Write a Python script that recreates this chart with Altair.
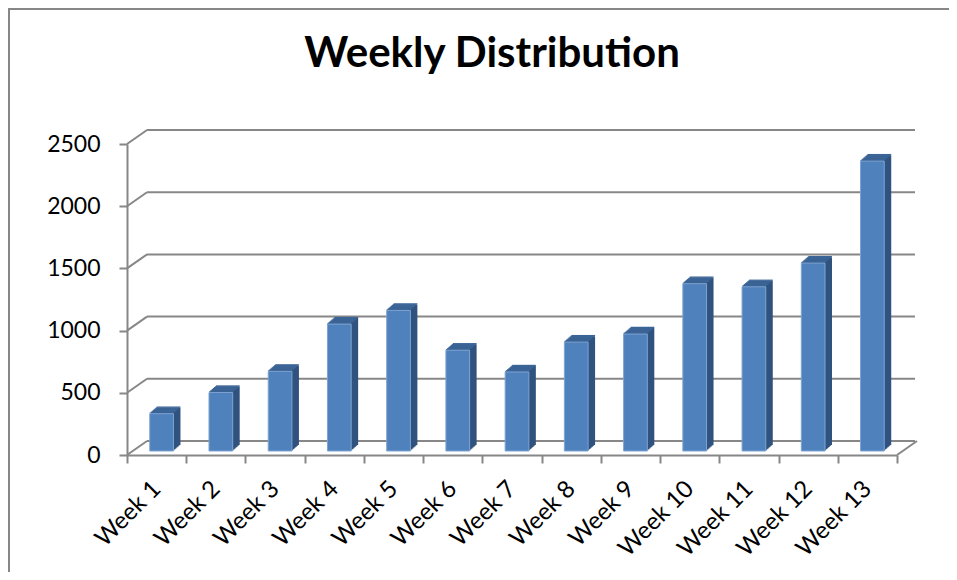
import altair as alt
import pandas as pd

weeks = ["Week 1", "Week 2", "Week 3", "Week 4", "Week 5", "Week 6", "Week 7",
         "Week 8", "Week 9", "Week 10", "Week 11", "Week 12", "Week 13"]
values = [300, 470, 640, 1020, 1130, 810, 635, 875, 940, 1345, 1320, 1510, 2330]
grid_values = [0, 500, 1000, 1500, 2000, 2500]
title_text = "Weekly Distribution"

df = pd.DataFrame({"week": weeks, "value": values})
gdf = pd.DataFrame({"g": grid_values})

W, H = 770, 311
BW = 23.7
GRAY = "#878787"
FRONT = "#4F81BD"
SIDE = "#30527E"
TOP = "#3C6597"
FONT = "Lato"

xscale = alt.Scale(domain=weeks, paddingInner=0, paddingOuter=0)
yscale = alt.Scale(domain=[0, 2500], nice=False)

xaxis = alt.Axis(title=None, labelAngle=-45, labelAlign="right",
                 labelBaseline="middle", labelFont=FONT, labelFontSize=24,
                 labelColor="#000000", labelPadding=22, tickSize=8,
                 tickColor=GRAY, tickWidth=2, domainColor=GRAY,
                 domainWidth=2, tickBand="extent", labelOverlap=False)
yaxis = alt.Axis(title=None, values=grid_values, format="d", labelFont=FONT,
                 labelFontSize=23, labelColor="#000000", labelPadding=19,
                 tickSize=8, tickColor=GRAY, tickWidth=2, domainColor=GRAY,
                 domainWidth=2, grid=False)

x_enc = alt.X("week:N", sort=weeks, scale=xscale, axis=xaxis)
y_enc = alt.Y("value:Q", scale=yscale, axis=yaxis)
yg_enc = alt.Y("g:Q", scale=yscale, axis=yaxis)

# back wall gridlines
back_grid = alt.Chart(gdf).mark_rule(color=GRAY, strokeWidth=2, yOffset=-14).encode(
    y=yg_enc, x=alt.value(20), x2=alt.value(788),
)
# side wall diagonals
side_diag = alt.Chart(gdf).mark_rule(color=GRAY, strokeWidth=2, yOffset=0, y2Offset=-14).encode(
    y=yg_enc, y2="g:Q", x=alt.value(0), x2=alt.value(20),
)
# floor right edge
floor_edge = alt.Chart(gdf).transform_filter("datum.g == 0").mark_rule(
    color=GRAY, strokeWidth=2, y2Offset=-14).encode(
    y=yg_enc, y2="g:Q", x=alt.value(W), x2=alt.value(W + 20),
)

layers = [back_grid, side_diag, floor_edge]

n = 7
# side (extrusion) layers
for k in range(1, n + 1):
    layers.append(
        alt.Chart(df).mark_bar(color=SIDE, width=BW, xOffset=5 + k,
                               yOffset=-4 - k * 6 / n).encode(x=x_enc, y=y_enc)
    )
# top face slices
for k in range(0, n + 1):
    layers.append(
        alt.Chart(df).mark_bar(color=TOP, width=BW, xOffset=5 + k,
                               yOffset=-4 - k * 6 / n - 1.2,
                               y2Offset=-4 - k * 6 / n).encode(
            x=x_enc, y=y_enc, y2="value:Q")
    )

front = alt.Chart(df).mark_bar(color=FRONT, width=BW, stroke="#7EA4D2", strokeWidth=1,
                                xOffset=5, yOffset=-4).encode(x=x_enc, y=y_enc)
layers.append(front)

# outer frame
frame_left = alt.Chart(gdf).transform_filter("datum.g == 0").mark_rule(
    color=GRAY, strokeWidth=2).encode(
    x=alt.value(-118), y=alt.value(-135), y2=alt.value(H + 130))
frame_top = alt.Chart(gdf).transform_filter("datum.g == 0").mark_rule(
    color=GRAY, strokeWidth=2).encode(
    x=alt.value(-119), x2=alt.value(W + 60), y=alt.value(-135))
layers += [frame_left, frame_top]

title = alt.Chart(pd.DataFrame({"t": [title_text]})).mark_text(
    font=FONT, fontSize=42, fontWeight="bold", color="#000000",
    align="center", baseline="alphabetic").encode(
    text="t:N", x=alt.value(365), y=alt.value(-77))
layers.append(title)

chart = alt.layer(*layers).properties(
    width=W, height=H,
    autosize=alt.AutoSizeParams(type="none"),
    padding={"left": 119, "top": 136, "right": 52, "bottom": 117},
    background="#ffffff",
).configure_view(stroke=None)

chart.save("out.html", embed_options={"renderer": "svg", "actions": False})
